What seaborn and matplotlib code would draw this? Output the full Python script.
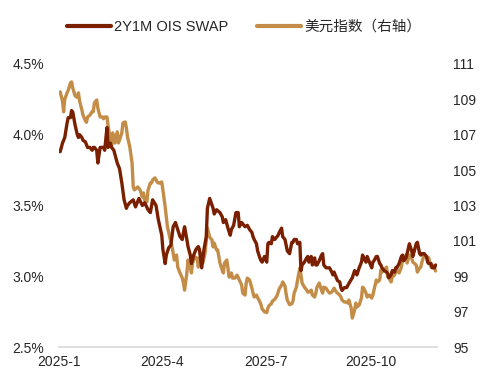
import pandas as pd
import matplotlib
import matplotlib.pyplot as plt
import seaborn as sns

matplotlib.use('Agg')

# 2Y1M OIS SWAP (%), left axis
ois_dates = [
    "01-02", "01-04", "01-06", "01-08", "01-09", "01-11", "01-12", "01-13", "01-15", "01-17",
    "01-18", "01-19", "01-21", "01-22", "01-24", "01-25", "01-26", "01-28", "01-30", "01-31",
    "02-01", "02-03", "02-04", "02-06", "02-08", "02-09", "02-10", "02-12", "02-13", "02-15",
    "02-16", "02-18", "02-21", "02-23", "02-25", "02-27", "03-01", "03-02", "03-04", "03-07",
    "03-09", "03-12", "03-15", "03-17", "03-20", "03-22", "03-24", "03-27", "03-29", "04-01",
    "04-02", "04-04", "04-05", "04-07", "04-09", "04-11", "04-13", "04-15", "04-17", "04-19",
    "04-20", "04-21", "04-23", "04-24", "04-26", "04-27", "04-29", "05-01", "05-03", "05-04",
    "05-06", "05-08", "05-10", "05-11", "05-13", "05-16", "05-17", "05-19", "05-22", "05-24",
    "05-25", "05-27", "05-29", "05-31", "06-01", "06-03", "06-05", "06-07", "06-08", "06-10",
    "06-13", "06-15", "06-17", "06-19", "06-20", "06-21", "06-23", "06-24", "06-26", "06-27",
    "06-28", "06-30", "07-02", "07-03", "07-04", "07-06", "07-07", "07-09", "07-11", "07-12",
    "07-13", "07-15", "07-16", "07-18", "07-19", "07-20", "07-22", "07-24", "07-25", "07-26",
    "07-28", "07-29", "07-31", "08-01", "08-02", "08-04", "08-06", "08-07", "08-08", "08-10",
    "08-11", "08-13", "08-14", "08-15", "08-17", "08-19", "08-20", "08-21", "08-23", "08-24",
    "08-26", "08-28", "08-29", "08-30", "09-01", "09-02", "09-04", "09-05", "09-06", "09-08",
    "09-10", "09-12", "09-15", "09-17", "09-18", "09-19", "09-21", "09-23", "09-24", "09-25",
    "09-27", "09-28", "09-30", "10-02", "10-03", "10-04", "10-06", "10-07", "10-09", "10-10",
    "10-11", "10-13", "10-15", "10-16", "10-17", "10-19", "10-20", "10-22", "10-23", "10-24",
    "10-26", "10-28", "10-29", "10-30", "11-01", "11-02", "11-04", "11-06", "11-07", "11-08",
    "11-10", "11-11", "11-13", "11-14", "11-15", "11-17", "11-19", "11-20", "11-21", "11-23",
    "11-24", "11-26", "11-27",
]
ois_values = [
    3.88, 3.94, 3.98, 4.08, 4.12, 4.12, 4.17, 4.16, 4.07, 4.00,
    3.98, 4.00, 3.98, 3.96, 3.95, 3.93, 3.91, 3.91, 3.89, 3.91,
    3.91, 3.89, 3.80, 3.91, 3.91, 3.91, 3.89, 4.05, 3.91, 3.94,
    3.91, 3.89, 3.80, 3.76, 3.66, 3.54, 3.48, 3.50, 3.52, 3.54,
    3.49, 3.55, 3.50, 3.52, 3.47, 3.45, 3.54, 3.50, 3.40, 3.29,
    3.19, 3.09, 3.15, 3.20, 3.22, 3.35, 3.38, 3.33, 3.28, 3.26,
    3.31, 3.35, 3.26, 3.21, 3.15, 3.09, 3.15, 3.19, 3.21, 3.19,
    3.06, 3.19, 3.28, 3.48, 3.55, 3.48, 3.44, 3.47, 3.45, 3.42,
    3.38, 3.40, 3.34, 3.29, 3.33, 3.36, 3.45, 3.45, 3.35, 3.38,
    3.35, 3.36, 3.33, 3.31, 3.28, 3.26, 3.23, 3.18, 3.13, 3.11,
    3.10, 3.14, 3.10, 3.23, 3.24, 3.23, 3.28, 3.26, 3.28, 3.29,
    3.31, 3.34, 3.28, 3.26, 3.22, 3.18, 3.16, 3.24, 3.24, 3.26,
    3.26, 3.23, 3.24, 3.04, 3.08, 3.10, 3.13, 3.14, 3.10, 3.14,
    3.08, 3.13, 3.08, 3.08, 3.11, 3.15, 3.16, 3.08, 3.06, 3.06,
    3.06, 3.03, 3.01, 3.03, 2.99, 2.97, 2.96, 2.92, 2.90, 2.92,
    2.92, 2.95, 2.99, 3.04, 3.03, 3.01, 3.06, 3.10, 3.15, 3.13,
    3.10, 3.14, 3.10, 3.06, 3.10, 3.11, 3.14, 3.14, 3.09, 3.08,
    3.06, 3.04, 3.03, 3.02, 2.99, 3.01, 3.04, 3.03, 3.06, 3.06,
    3.09, 3.14, 3.15, 3.11, 3.13, 3.16, 3.23, 3.18, 3.14, 3.17,
    3.23, 3.24, 3.16, 3.15, 3.16, 3.16, 3.14, 3.10, 3.09, 3.09,
    3.06, 3.06, 3.08,
]

# 美元指数, right axis
dxy_dates = [
    "01-02", "01-04", "01-05", "01-06", "01-08", "01-09", "01-11", "01-12", "01-13", "01-15",
    "01-17", "01-18", "01-19", "01-21", "01-22", "01-24", "01-25", "01-26", "01-28", "01-30",
    "01-31", "02-01", "02-03", "02-04", "02-06", "02-08", "02-09", "02-10", "02-12", "02-13",
    "02-15", "02-16", "02-17", "02-19", "02-21", "02-22", "02-23", "02-25", "02-26", "02-28",
    "03-01", "03-02", "03-04", "03-06", "03-07", "03-08", "03-10", "03-11", "03-13", "03-15",
    "03-16", "03-17", "03-19", "03-20", "03-22", "03-23", "03-24", "03-26", "03-28", "03-29",
    "03-30", "04-01", "04-02", "04-04", "04-05", "04-06", "04-08", "04-10", "04-11", "04-12",
    "04-14", "04-15", "04-17", "04-19", "04-20", "04-21", "04-23", "04-24", "04-26", "04-27",
    "04-28", "04-30", "05-02", "05-03", "05-04", "05-06", "05-07", "05-09", "05-10", "05-11",
    "05-13", "05-15", "05-16", "05-17", "05-19", "05-20", "05-22", "05-24", "05-25", "05-26",
    "05-28", "05-29", "05-30", "06-01", "06-02", "06-04", "06-06", "06-08", "06-10", "06-11",
    "06-13", "06-14", "06-15", "06-17", "06-19", "06-20", "06-21", "06-23", "06-24", "06-26",
    "06-27", "06-28", "06-30", "07-02", "07-03", "07-04", "07-06", "07-07", "07-09", "07-11",
    "07-12", "07-13", "07-15", "07-16", "07-18", "07-19", "07-20", "07-22", "07-24", "07-25",
    "07-26", "07-28", "07-29", "07-31", "08-01", "08-02", "08-04", "08-06", "08-07", "08-08",
    "08-10", "08-11", "08-13", "08-14", "08-15", "08-17", "08-19", "08-20", "08-21", "08-23",
    "08-24", "08-26", "08-28", "08-29", "08-30", "09-01", "09-02", "09-04", "09-05", "09-06",
    "09-08", "09-10", "09-11", "09-12", "09-14", "09-15", "09-17", "09-18", "09-19", "09-21",
    "09-23", "09-24", "09-25", "09-27", "09-28", "09-30", "10-02", "10-03", "10-04", "10-06",
    "10-07", "10-09", "10-10", "10-11", "10-13", "10-15", "10-16", "10-17", "10-19", "10-20",
    "10-22", "10-23", "10-24", "10-26", "10-28", "10-29", "10-30", "11-01", "11-02", "11-04",
    "11-06", "11-07", "11-08", "11-10", "11-11", "11-13", "11-14", "11-15", "11-17", "11-19",
    "11-20", "11-21", "11-23", "11-24", "11-26", "11-27",
]
dxy_values = [
    109.42, 108.90, 108.29, 109.00, 109.36, 109.50, 109.93, 109.98, 109.64, 109.20,
    109.10, 109.36, 108.90, 108.40, 108.10, 107.80, 107.70, 108.00, 108.10, 108.30,
    108.30, 108.80, 108.96, 108.50, 108.00, 108.00, 107.90, 108.00, 108.00, 107.50,
    106.70, 106.31, 107.10, 106.53, 107.16, 106.53, 106.70, 107.10, 107.66, 107.72,
    107.38, 106.87, 106.31, 105.40, 104.05, 103.88, 103.99, 104.05, 103.88, 103.48,
    103.71, 103.31, 103.20, 103.88, 104.27, 104.27, 104.44, 104.56, 104.33, 104.27,
    104.27, 104.33, 103.88, 102.92, 102.35, 101.79, 101.22, 100.66, 100.32, 99.92,
    100.20, 99.52, 99.19, 98.90, 98.62, 98.22, 99.19, 99.92, 99.52, 99.19,
    99.75, 100.09, 100.03, 99.52, 99.92, 100.32, 99.75, 100.32, 101.05, 101.73,
    101.22, 101.05, 100.66, 100.88, 100.49, 100.49, 99.75, 99.35, 99.19, 99.75,
    99.92, 99.47, 98.96, 99.19, 98.90, 98.90, 99.07, 98.79, 98.51, 98.05,
    97.94, 98.62, 98.90, 98.79, 98.33, 98.05, 97.83, 97.94, 97.80, 97.55,
    97.40, 97.15, 97.00, 96.95, 97.20, 97.35, 97.45, 97.60, 97.70, 97.90,
    98.10, 98.30, 98.50, 98.68, 98.45, 98.00, 97.66, 97.40, 97.45, 97.60,
    98.05, 98.39, 98.79, 99.47, 99.07, 98.62, 98.39, 98.22, 98.11, 98.11,
    98.22, 97.94, 97.83, 98.05, 98.39, 98.62, 98.22, 98.05, 98.39, 98.33,
    98.22, 98.05, 98.11, 98.22, 98.33, 98.11, 98.05, 97.94, 97.83, 97.66,
    97.55, 97.55, 97.49, 97.66, 97.21, 96.64, 97.09, 97.49, 97.26, 97.38,
    97.77, 98.39, 98.33, 98.05, 97.83, 97.94, 97.77, 97.94, 98.22, 98.79,
    98.68, 98.79, 99.35, 99.24, 99.35, 99.52, 98.96, 98.90, 98.68, 98.96,
    99.07, 99.24, 99.35, 99.19, 99.52, 99.92, 99.92, 100.20, 99.75, 100.20,
    100.03, 99.81, 99.75, 99.64, 99.24, 99.47, 99.52, 99.81, 100.20, 100.09,
    100.09, 100.03, 99.52, 99.64, 99.47, 99.30,
]

tick_dates = ["2025-01-01", "2025-04-01", "2025-07-01", "2025-10-01"]
tick_labels = ["2025-1", "2025-4", "2025-7", "2025-10"]

ois = pd.DataFrame({"date": pd.to_datetime(["2025-" + d for d in ois_dates]), "value": ois_values})
dxy = pd.DataFrame({"date": pd.to_datetime(["2025-" + d for d in dxy_dates]), "value": dxy_values})

sns.set_style("white")
plt.rcParams['font.family'] = ['Liberation Sans', 'Noto Sans CJK SC', 'DejaVu Sans']
plt.rcParams['font.size'] = 10

brown = "#7A2000"
tan = "#C38D48"

fig, ax = plt.subplots(figsize=(4.88, 3.87), dpi=100)
fig.subplots_adjust(left=0.121, right=0.895, top=0.835, bottom=0.103)
ax2 = ax.twinx()

sns.lineplot(data=dxy, x="date", y="value", ax=ax2, color=tan, linewidth=2.4, label="美元指数（右轴）", legend=False)
sns.lineplot(data=ois, x="date", y="value", ax=ax, color=brown, linewidth=2.4, label="2Y1M OIS SWAP", legend=False)

# brown line drawn over the tan one
ax.set_zorder(ax2.get_zorder() + 1)
ax.patch.set_visible(False)

ax.set_xlim(pd.Timestamp("2025-01-01"), pd.Timestamp("2025-11-28"))
ax.set_ylim(2.5, 4.5)
ax.set_yticks([2.5, 3.0, 3.5, 4.0, 4.5])
ax.set_yticklabels([f"{v:.1f}%" for v in [2.5, 3.0, 3.5, 4.0, 4.5]])
ax2.set_ylim(95, 111)
ax2.set_yticks(range(95, 112, 2))

ax.set_xticks(pd.to_datetime(tick_dates))
ax.set_xticklabels(tick_labels)

ax.set_xlabel("")
ax.set_ylabel("")
ax2.set_xlabel("")
ax2.set_ylabel("")

for a in (ax, ax2):
    for side in ("top", "left", "right"):
        a.spines[side].set_visible(False)
    a.spines["bottom"].set_color("#d9d9d9")
    a.spines["bottom"].set_linewidth(1.2)
ax2.spines["bottom"].set_visible(False)

ax.tick_params(axis="x", length=4, color="#d9d9d9", width=1, pad=2, labelsize=10)
ax.tick_params(axis="y", length=0, pad=11, labelsize=10)
ax2.tick_params(axis="y", length=0, pad=12, labelsize=10)

h1, l1 = ax.get_legend_handles_labels()
h2, l2 = ax2.get_legend_handles_labels()
leg = fig.legend(h1 + h2, l1 + l2, loc="center", bbox_to_anchor=(0.5, 0.93), ncol=2,
                 frameon=False, handlelength=3.0, handletextpad=0.2, columnspacing=2.0, fontsize=10.5)
for line in leg.get_lines():
    line.set_linewidth(3)

plt.savefig("out.png", dpi=100)
plt.close()
